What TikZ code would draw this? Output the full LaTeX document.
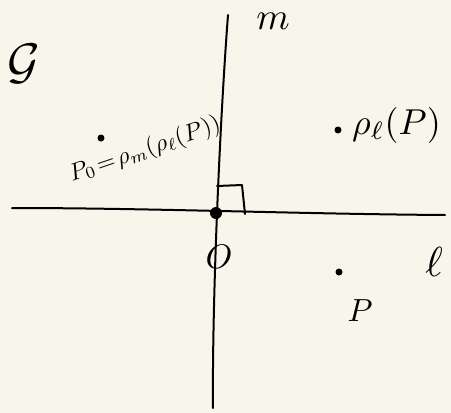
\documentclass[tikz,border=0pt]{standalone}
\usepackage{amsmath}
\definecolor{paper}{RGB}{248,246,234}
\begin{document}
\begin{tikzpicture}[x=1pt,y=-1pt,
  stroke/.style={line width=2pt,line cap=round,line join=round},
  pt/.style={circle,fill=black,inner sep=0pt,minimum size=7pt},
  lbl/.style={inner sep=0pt}]
\fill[paper] (0,0) rectangle (451,413);
\useasboundingbox (0,0) rectangle (451,413);
% axes
\coordinate (lA) at (12,208);
\coordinate (lB) at (445,215);
\coordinate (mA) at (228,15);
\coordinate (mB) at (213,408);
\draw[stroke] (lA) .. controls (150,208) and (300,214) .. (lB);
\draw[stroke] (mA) .. controls (220,120) and (212,300) .. (mB);
\node[pt,minimum size=12pt] (O) at (216,213) {};
% right angle mark
\coordinate (r1) at (217,186);
\coordinate (r2) at (242,185);
\coordinate (r3) at (245,214);
\draw[stroke] (r1) -- (r2) -- (r3);
% labels
\node[lbl] (Olbl) at (219,257) {\scalebox{3.4}{$O$}};
\node[lbl] (llbl) at (434,262) {\scalebox{4.2}{$\ell$}};
\node[lbl] (mlbl) at (273,21) {\scalebox{3.8}{$m$}};
\node[lbl] (G) at (24,64) {\scalebox{5}{$\mathcal{G}$}};
% points
\node[pt] (P) at (339,272) {};
\node[lbl] (Plbl) at (360,311) {\scalebox{3.2}{$P$}};
\node[pt] (PL) at (338,130) {};
\node[lbl,anchor=west] (PLlbl) at (352,125) {\scalebox{3.6}{$\rho_\ell(P)$}};
\node[pt] (PP) at (101,138) {};
\node[lbl,rotate=19] (PPlbl) at (145,150) {\scalebox{2.4}{$P_0\!=\!\rho_m(\rho_\ell(P))$}};
\end{tikzpicture}
\end{document}
